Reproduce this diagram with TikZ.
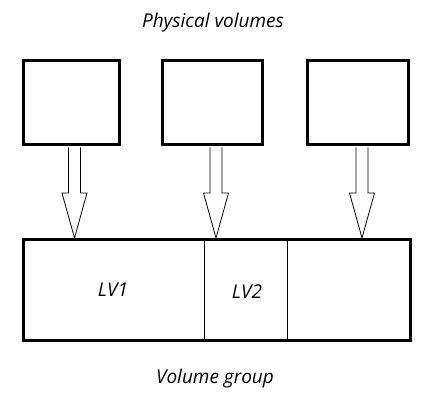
\documentclass[tikz,border=0pt]{standalone}
\usepackage{fontspec}
\setmainfont{Open Sans}
\usetikzlibrary{calc,positioning}

\newcommand\pvarrow[2]{%
  \draw[arrowline] let \p1=(#1), \p2=(#2) in
    (\x1-6pt,\y1) -- (\x1-6pt,\y2+45pt) -- (\x1-12.5pt,\y2+45pt) -- (\x2,\y2)
    -- (\x1+12.5pt,\y2+45pt) -- (\x1+6pt,\y2+45pt) -- (\x1+6pt,\y1);}

\begin{document}
\begin{tikzpicture}[
    x=1pt, y=1pt,
    font=\fontsize{19}{23}\selectfont\itshape,
    pvbox/.style={draw, line width=3pt, minimum height=84pt, inner sep=0pt},
    vgbox/.style={draw, line width=3pt, minimum width=387pt, minimum height=101pt, inner sep=0pt},
    divider/.style={line width=0.9pt},
    arrowline/.style={line width=0.8pt, line join=miter}
]

% Canvas
\useasboundingbox (0,0) rectangle (432,412);

% Title
\node (pvtitle) at (213,389) {Physical volumes};

% Physical volumes
\node[pvbox, minimum width=96pt] (pv1) at (71,309.5) {};
\node[pvbox, minimum width=100pt] (pv2) at (212.3,309.5) {};
\node[pvbox, minimum width=101pt] (pv3) at (358.2,309.5) {};

% Volume group
\node[vgbox] (vg) at (217,122) {};
\draw[divider] (204,0 |- vg.north) -- (204,0 |- vg.south);
\draw[divider] (287,0 |- vg.north) -- (287,0 |- vg.south);
\node (lv1) at (113,122) {LV1};
\node (lv2) at (247,120) {LV2};

\node (vgtitle) at (215,33) {Volume group};

% Arrows into the group
\coordinate (a1) at ($(pv1.south)+(3.5,-1.5)$);
\coordinate (a2) at ($(pv2.south)+(3.7,-1.5)$);
\coordinate (a3) at ($(pv3.south)+(3.8,-1.5)$);
\pvarrow{a1}{a1 |- vg.north}
\pvarrow{a2}{a2 |- vg.north}
\pvarrow{a3}{a3 |- vg.north}

\end{tikzpicture}
\end{document}
